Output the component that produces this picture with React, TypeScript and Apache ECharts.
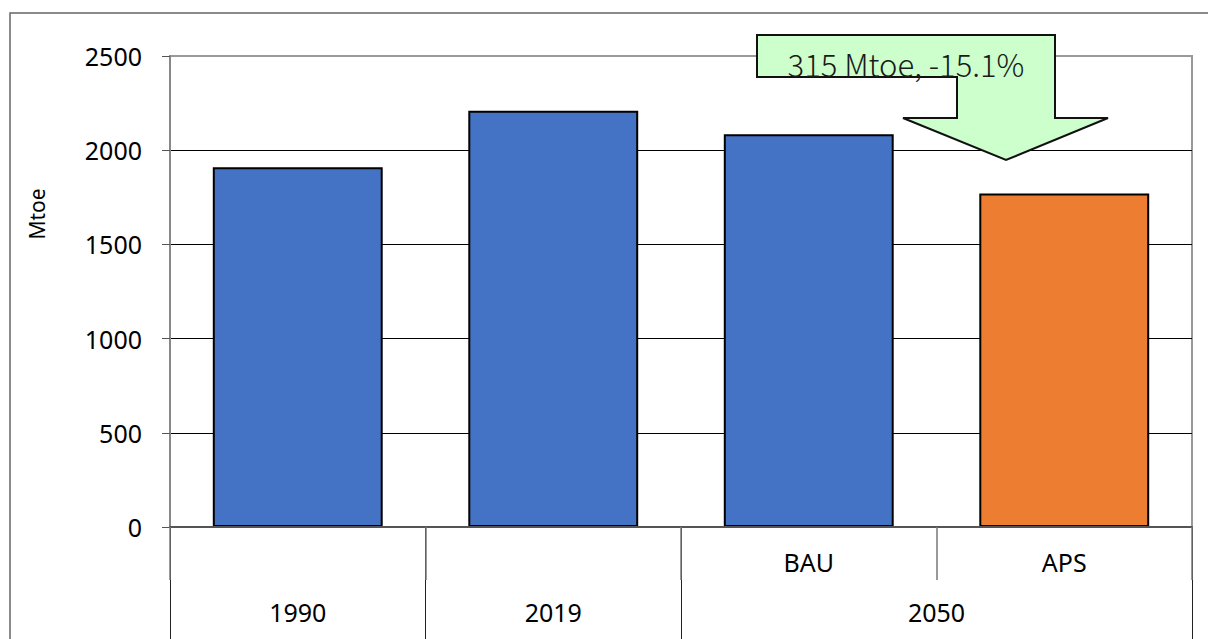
import React, { useEffect, useRef } from "react";
import * as echarts from "echarts";

const scenarioLabels = ["", "", "BAU", "APS"];
const values = [1910, 2210, 2085, 1770];
const barColors = ["#4472C4", "#4472C4", "#4472C4", "#ED7D31"];
const yTicks = { min: 0, max: 2500, interval: 500 };
const axisName = "Mtoe";
const annotationText = "315 Mtoe, -15.1%";

// second-level axis: 9 half-step positions across the 4 categories
const groupAxisData = ["", "1990", "", "2019", "", "", "2050", "", ""];
const groupBoundaries = [0, 2, 4, 8];

const FONT = "'Noto Sans', 'Noto Sans CJK JP', sans-serif";
const CJK_FONT = "'Noto Sans CJK JP', 'Noto Sans', sans-serif";
const LABEL_SIZE = 25;

export default function App() {
  const ref = useRef<HTMLDivElement>(null);
  useEffect(() => {
    if (!ref.current) return;
    const chart = echarts.init(ref.current, undefined, { renderer: "svg" });
    const option: any = {
      animation: false,
      backgroundColor: "#fff",
      grid: {
        left: 170,
        right: 16,
        top: 56,
        bottom: 112,
        show: true,
        borderColor: "#999",
        borderWidth: 2,
        containLabel: false,
      },
      xAxis: [
        {
          type: "category",
          data: scenarioLabels,
          position: "bottom",
          axisLine: { show: true, lineStyle: { color: "#555", width: 2 } },
          axisTick: {
            show: true,
            interval: 0,
            length: 53,
            lineStyle: { color: "#777", width: 1.5 },
          },
          axisLabel: {
            interval: 0,
            margin: 22,
            fontSize: LABEL_SIZE,
            color: "#000",
            fontFamily: FONT,
          },
          z: 5,
        },
        {
          type: "category",
          data: groupAxisData,
          boundaryGap: false,
          position: "bottom",
          axisLine: { show: false },
          axisTick: {
            show: true,
            interval: (i: number) => groupBoundaries.indexOf(i) >= 0,
            length: 112,
            lineStyle: { color: "#222", width: 1 },
          },
          axisLabel: {
            interval: 0,
            margin: 72,
            fontSize: LABEL_SIZE,
            color: "#000",
            fontFamily: FONT,
          },
          z: 4,
        },
      ],
      yAxis: {
        type: "value",
        min: yTicks.min,
        max: yTicks.max,
        interval: yTicks.interval,
        axisLine: { show: true, lineStyle: { color: "#888", width: 2 } },
        axisTick: { show: true, length: 8, lineStyle: { color: "#555", width: 1 } },
        axisLabel: {
          margin: 28,
          fontSize: LABEL_SIZE,
          color: "#000",
          fontFamily: FONT,
          formatter: (v: number) => String(v),
        },
        splitLine: {
          show: true,
          lineStyle: { color: ["#888", "#000", "#000", "#000", "#000", "#999"], width: 1 },
        },
      },
      series: [
        {
          type: "bar",
          xAxisIndex: 0,
          barWidth: "66.5%",
          data: values.map((v, i) => ({
            value: v,
            itemStyle: { color: barColors[i] },
          })),
          itemStyle: { borderColor: "#000", borderWidth: 2 },
          z: 3,
        },
      ],
      graphic: [
        {
          type: "rect",
          shape: { x: 10, y: 13, width: 1300, height: 700 },
          style: { fill: "none", stroke: "#666", lineWidth: 1.5 },
          silent: true,
          z: 0,
        },
        {
          type: "text",
          x: 37,
          y: 214,
          rotation: Math.PI / 2,
          style: {
            text: axisName,
            fontSize: 21,
            fontFamily: FONT,
            fill: "#000",
            align: "center",
            verticalAlign: "middle",
          },
          z: 10,
        },
        {
          type: "polygon",
          shape: {
            points: [
              [757, 35],
              [1055, 35],
              [1055, 118],
              [1108, 118],
              [1006, 160],
              [903, 118],
              [957, 118],
              [957, 77],
              [757, 77],
            ],
          },
          style: { fill: "#CCFFCC", stroke: "#111", lineWidth: 2 },
          z: 20,
        },
        {
          type: "text",
          x: 906,
          y: 63,
          style: {
            text: annotationText,
            fontSize: 31,
            fontWeight: 300,
            fontFamily: CJK_FONT,
            fill: "#1a1a1a",
            align: "center",
            verticalAlign: "middle",
          },
          z: 21,
        },
      ],
    };
    chart.setOption(option);
    return () => chart.dispose();
  }, []);
  return (
    <div
      ref={ref}
      style={{ position: "fixed", left: 0, top: 0, width: 1208, height: 639 }}
    />
  );
}
